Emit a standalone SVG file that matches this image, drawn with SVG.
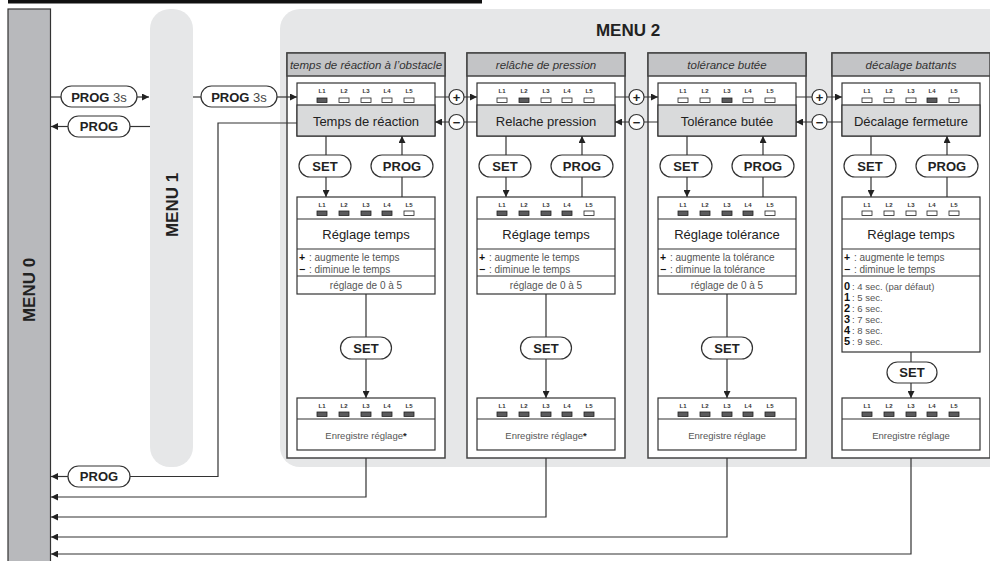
<svg xmlns="http://www.w3.org/2000/svg" width="990" height="561" viewBox="0 0 990 561">
<defs>
<style>
text{font-family:"Liberation Sans",Arial,sans-serif}
.ln{stroke:#333;stroke-width:1.2;fill:none}
.box{fill:#fff;stroke:#333;stroke-width:1.2}
.col{fill:#fff;stroke:#444;stroke-width:1.5}
.hdr{fill:#c3c4c6;stroke:#444;stroke-width:1.5}
.lbl{fill:#d9dadb;stroke:#333;stroke-width:1.2}
.pill{fill:#fff;stroke:#333;stroke-width:1.2}
.on{fill:#5a5a5c;stroke:#222;stroke-width:0.8}
.off{fill:#fff;stroke:#222;stroke-width:0.8}
.lt{font-size:6px;font-weight:bold;fill:#333;text-anchor:middle}
.big{font-size:13px;fill:#222;text-anchor:middle}
.pt{font-size:13px;font-weight:bold;fill:#222;text-anchor:middle}
.hd{font-size:11.5px;font-style:italic;fill:#333;text-anchor:middle}
.sm{font-size:10px;fill:#555}
.sl{font-size:9.5px;fill:#555}
.smc{font-size:10px;fill:#555;text-anchor:middle}
.en{font-size:9.5px;fill:#555;text-anchor:middle}
.sg{font-size:10.5px;font-weight:bold;fill:#111}
.dg{font-size:11px;font-weight:bold;fill:#111}
.menu{font-size:17px;font-weight:bold;fill:#222;text-anchor:middle}
.pm{font-size:13px;font-weight:bold;fill:#222;text-anchor:middle}
</style>
<marker id="ar" viewBox="0 0 10 10" refX="10" refY="5" markerWidth="7" markerHeight="7" markerUnits="userSpaceOnUse" orient="auto"><path d="M0,0 L10,5 L0,10 z" fill="#222"/></marker>
</defs>
<rect width="990" height="561" fill="#fff"/>
<rect x="8" y="0" width="474" height="3.5" fill="#111"/>

<g id="menu0">
<rect x="8" y="9" width="42.5" height="560" fill="#b8b9bc" stroke="#333" stroke-width="1.2"/>
<text class="menu" transform="translate(35,290) rotate(-90)">MENU 0</text>
</g>
<g id="menu1">
<rect x="150" y="9" width="43" height="458" rx="20" fill="#e6e7e8"/>
<text class="menu" transform="translate(178,205) rotate(-90)">MENU 1</text>
</g>
<g id="menu2">
<rect x="280" y="9" width="740" height="458" rx="20" fill="#e6e7e8"/>
<text class="menu" x="628" y="36">MENU 2</text>
</g>

<g id="col1" transform="translate(287,0)">
<rect class="col" x="0" y="53" width="158" height="405"/>
<rect class="hdr" x="0" y="53" width="158" height="23"/>
<text class="hd" x="79" y="68.5">temps de réaction à l’obstacle</text>
<rect class="box" x="10" y="83" width="138" height="53"/>
<rect class="lbl" x="10" y="105" width="138" height="31"/>
<text class="lt" x="35" y="93">L1</text><text class="lt" x="57" y="93">L2</text><text class="lt" x="79" y="93">L3</text><text class="lt" x="100" y="93">L4</text><text class="lt" x="122" y="93">L5</text>
<rect class="on" x="30" y="98" width="10" height="4.5"/><rect class="off" x="52" y="98" width="10" height="4.5"/><rect class="off" x="74" y="98" width="10" height="4.5"/><rect class="off" x="95" y="98" width="10" height="4.5"/><rect class="off" x="117" y="98" width="10" height="4.5"/>
<text class="big" x="79" y="125.5">Temps de réaction</text>
<path class="ln" d="M39,136 V197" marker-end="url(#ar)"/>
<path class="ln" d="M115,197 V136" marker-end="url(#ar)"/>
<rect class="pill" x="12" y="155" width="52" height="22" rx="11"/><text class="pt" x="38" y="170.5">SET</text>
<rect class="pill" x="84" y="155" width="62" height="22" rx="11"/><text class="pt" x="115" y="170.5">PROG</text>
<rect class="box" x="10" y="197" width="138" height="97"/>
<path class="ln" d="M10,219 H148 M10,249 H148 M10,276 H148"/>
<text class="lt" x="35" y="207">L1</text><text class="lt" x="57" y="207">L2</text><text class="lt" x="79" y="207">L3</text><text class="lt" x="100" y="207">L4</text><text class="lt" x="122" y="207">L5</text>
<rect class="on" x="30" y="211" width="10" height="4.5"/><rect class="on" x="52" y="211" width="10" height="4.5"/><rect class="on" x="74" y="211" width="10" height="4.5"/><rect class="on" x="95" y="211" width="10" height="4.5"/><rect class="off" x="117" y="211" width="10" height="4.5"/>
<text class="big" x="79" y="239">Réglage temps</text>
<text class="sg" x="12" y="261">+</text><text class="sm" x="22" y="261">: augmente le temps</text>
<text class="sg" x="12" y="273">−</text><text class="sm" x="22" y="273">: diminue le temps</text>
<text class="smc" x="79" y="289">réglage de 0 à 5</text>
<path class="ln" d="M79,294 V398" marker-end="url(#ar)"/>
<rect class="pill" x="53.5" y="337" width="51" height="22" rx="11"/><text class="pt" x="79" y="352.5">SET</text>
<rect class="box" x="10" y="398" width="138" height="52"/>
<path class="ln" d="M10,419 H148"/>
<text class="lt" x="35" y="408">L1</text><text class="lt" x="57" y="408">L2</text><text class="lt" x="79" y="408">L3</text><text class="lt" x="100" y="408">L4</text><text class="lt" x="122" y="408">L5</text>
<rect class="on" x="30" y="412" width="10" height="4.5"/><rect class="on" x="52" y="412" width="10" height="4.5"/><rect class="on" x="74" y="412" width="10" height="4.5"/><rect class="on" x="95" y="412" width="10" height="4.5"/><rect class="on" x="117" y="412" width="10" height="4.5"/>
<text class="en" x="79" y="439">Enregistre réglage<tspan font-weight="bold" fill="#222">*</tspan></text>
</g>

<g id="col2" transform="translate(467,0)">
<rect class="col" x="0" y="53" width="158" height="405"/>
<rect class="hdr" x="0" y="53" width="158" height="23"/>
<text class="hd" x="79" y="68.5">relâche de pression</text>
<rect class="box" x="10" y="83" width="138" height="53"/>
<rect class="lbl" x="10" y="105" width="138" height="31"/>
<text class="lt" x="35" y="93">L1</text><text class="lt" x="57" y="93">L2</text><text class="lt" x="79" y="93">L3</text><text class="lt" x="100" y="93">L4</text><text class="lt" x="122" y="93">L5</text>
<rect class="off" x="30" y="98" width="10" height="4.5"/><rect class="on" x="52" y="98" width="10" height="4.5"/><rect class="off" x="74" y="98" width="10" height="4.5"/><rect class="off" x="95" y="98" width="10" height="4.5"/><rect class="off" x="117" y="98" width="10" height="4.5"/>
<text class="big" x="79" y="125.5">Relache pression</text>
<path class="ln" d="M39,136 V197" marker-end="url(#ar)"/>
<path class="ln" d="M115,197 V136" marker-end="url(#ar)"/>
<rect class="pill" x="12" y="155" width="52" height="22" rx="11"/><text class="pt" x="38" y="170.5">SET</text>
<rect class="pill" x="84" y="155" width="62" height="22" rx="11"/><text class="pt" x="115" y="170.5">PROG</text>
<rect class="box" x="10" y="197" width="138" height="97"/>
<path class="ln" d="M10,219 H148 M10,249 H148 M10,276 H148"/>
<text class="lt" x="35" y="207">L1</text><text class="lt" x="57" y="207">L2</text><text class="lt" x="79" y="207">L3</text><text class="lt" x="100" y="207">L4</text><text class="lt" x="122" y="207">L5</text>
<rect class="on" x="30" y="211" width="10" height="4.5"/><rect class="on" x="52" y="211" width="10" height="4.5"/><rect class="on" x="74" y="211" width="10" height="4.5"/><rect class="on" x="95" y="211" width="10" height="4.5"/><rect class="off" x="117" y="211" width="10" height="4.5"/>
<text class="big" x="79" y="239">Réglage temps</text>
<text class="sg" x="12" y="261">+</text><text class="sm" x="22" y="261">: augmente le temps</text>
<text class="sg" x="12" y="273">−</text><text class="sm" x="22" y="273">: diminue le temps</text>
<text class="smc" x="79" y="289">réglage de 0 à 5</text>
<path class="ln" d="M79,294 V398" marker-end="url(#ar)"/>
<rect class="pill" x="53.5" y="337" width="51" height="22" rx="11"/><text class="pt" x="79" y="352.5">SET</text>
<rect class="box" x="10" y="398" width="138" height="52"/>
<path class="ln" d="M10,419 H148"/>
<text class="lt" x="35" y="408">L1</text><text class="lt" x="57" y="408">L2</text><text class="lt" x="79" y="408">L3</text><text class="lt" x="100" y="408">L4</text><text class="lt" x="122" y="408">L5</text>
<rect class="on" x="30" y="412" width="10" height="4.5"/><rect class="on" x="52" y="412" width="10" height="4.5"/><rect class="on" x="74" y="412" width="10" height="4.5"/><rect class="on" x="95" y="412" width="10" height="4.5"/><rect class="on" x="117" y="412" width="10" height="4.5"/>
<text class="en" x="79" y="439">Enregistre réglage<tspan font-weight="bold" fill="#222">*</tspan></text>
</g>

<g id="col3" transform="translate(648,0)">
<rect class="col" x="0" y="53" width="158" height="405"/>
<rect class="hdr" x="0" y="53" width="158" height="23"/>
<text class="hd" x="79" y="68.5">tolérance butée</text>
<rect class="box" x="10" y="83" width="138" height="53"/>
<rect class="lbl" x="10" y="105" width="138" height="31"/>
<text class="lt" x="35" y="93">L1</text><text class="lt" x="57" y="93">L2</text><text class="lt" x="79" y="93">L3</text><text class="lt" x="100" y="93">L4</text><text class="lt" x="122" y="93">L5</text>
<rect class="off" x="30" y="98" width="10" height="4.5"/><rect class="off" x="52" y="98" width="10" height="4.5"/><rect class="on" x="74" y="98" width="10" height="4.5"/><rect class="off" x="95" y="98" width="10" height="4.5"/><rect class="off" x="117" y="98" width="10" height="4.5"/>
<text class="big" x="79" y="125.5">Tolérance butée</text>
<path class="ln" d="M39,136 V197" marker-end="url(#ar)"/>
<path class="ln" d="M115,197 V136" marker-end="url(#ar)"/>
<rect class="pill" x="12" y="155" width="52" height="22" rx="11"/><text class="pt" x="38" y="170.5">SET</text>
<rect class="pill" x="84" y="155" width="62" height="22" rx="11"/><text class="pt" x="115" y="170.5">PROG</text>
<rect class="box" x="10" y="197" width="138" height="97"/>
<path class="ln" d="M10,219 H148 M10,249 H148 M10,276 H148"/>
<text class="lt" x="35" y="207">L1</text><text class="lt" x="57" y="207">L2</text><text class="lt" x="79" y="207">L3</text><text class="lt" x="100" y="207">L4</text><text class="lt" x="122" y="207">L5</text>
<rect class="on" x="30" y="211" width="10" height="4.5"/><rect class="on" x="52" y="211" width="10" height="4.5"/><rect class="on" x="74" y="211" width="10" height="4.5"/><rect class="on" x="95" y="211" width="10" height="4.5"/><rect class="off" x="117" y="211" width="10" height="4.5"/>
<text class="big" x="79" y="239">Réglage tolérance</text>
<text class="sg" x="12" y="261">+</text><text class="sm" x="22" y="261">: augmente la tolérance</text>
<text class="sg" x="12" y="273">−</text><text class="sm" x="22" y="273">: diminue la tolérance</text>
<text class="smc" x="79" y="289">réglage de 0 à 5</text>
<path class="ln" d="M79,294 V398" marker-end="url(#ar)"/>
<rect class="pill" x="53.5" y="337" width="51" height="22" rx="11"/><text class="pt" x="79" y="352.5">SET</text>
<rect class="box" x="10" y="398" width="138" height="52"/>
<path class="ln" d="M10,419 H148"/>
<text class="lt" x="35" y="408">L1</text><text class="lt" x="57" y="408">L2</text><text class="lt" x="79" y="408">L3</text><text class="lt" x="100" y="408">L4</text><text class="lt" x="122" y="408">L5</text>
<rect class="on" x="30" y="412" width="10" height="4.5"/><rect class="on" x="52" y="412" width="10" height="4.5"/><rect class="on" x="74" y="412" width="10" height="4.5"/><rect class="on" x="95" y="412" width="10" height="4.5"/><rect class="on" x="117" y="412" width="10" height="4.5"/>
<text class="en" x="79" y="439">Enregistre réglage</text>
</g>

<g id="col4" transform="translate(832,0)">
<rect class="col" x="0" y="53" width="158" height="405"/>
<rect class="hdr" x="0" y="53" width="158" height="23"/>
<text class="hd" x="79" y="68.5">décalage battants</text>
<rect class="box" x="10" y="83" width="138" height="53"/>
<rect class="lbl" x="10" y="105" width="138" height="31"/>
<text class="lt" x="35" y="93">L1</text><text class="lt" x="57" y="93">L2</text><text class="lt" x="79" y="93">L3</text><text class="lt" x="100" y="93">L4</text><text class="lt" x="122" y="93">L5</text>
<rect class="off" x="30" y="98" width="10" height="4.5"/><rect class="off" x="52" y="98" width="10" height="4.5"/><rect class="off" x="74" y="98" width="10" height="4.5"/><rect class="on" x="95" y="98" width="10" height="4.5"/><rect class="off" x="117" y="98" width="10" height="4.5"/>
<text class="big" x="79" y="125.5">Décalage fermeture</text>
<path class="ln" d="M39,136 V197" marker-end="url(#ar)"/>
<path class="ln" d="M115,197 V136" marker-end="url(#ar)"/>
<rect class="pill" x="12" y="155" width="52" height="22" rx="11"/><text class="pt" x="38" y="170.5">SET</text>
<rect class="pill" x="84" y="155" width="62" height="22" rx="11"/><text class="pt" x="115" y="170.5">PROG</text>
<rect class="box" x="10" y="197" width="138" height="155"/>
<path class="ln" d="M10,219 H148 M10,249 H148 M10,276 H148"/>
<text class="lt" x="35" y="207">L1</text><text class="lt" x="57" y="207">L2</text><text class="lt" x="79" y="207">L3</text><text class="lt" x="100" y="207">L4</text><text class="lt" x="122" y="207">L5</text>
<rect class="off" x="30" y="211" width="10" height="4.5"/><rect class="off" x="52" y="211" width="10" height="4.5"/><rect class="off" x="74" y="211" width="10" height="4.5"/><rect class="off" x="95" y="211" width="10" height="4.5"/><rect class="off" x="117" y="211" width="10" height="4.5"/>
<text class="big" x="79" y="239">Réglage temps</text>
<text class="sg" x="12" y="261">+</text><text class="sm" x="22" y="261">: augmente le temps</text>
<text class="sg" x="12" y="273">−</text><text class="sm" x="22" y="273">: diminue le temps</text>
<text class="dg" x="12" y="289.5">0</text><text class="sl" x="20" y="289.5">: 4 sec. (par défaut)</text>
<text class="dg" x="12" y="300.5">1</text><text class="sl" x="20" y="300.5">: 5 sec.</text>
<text class="dg" x="12" y="311.5">2</text><text class="sl" x="20" y="311.5">: 6 sec.</text>
<text class="dg" x="12" y="322.5">3</text><text class="sl" x="20" y="322.5">: 7 sec.</text>
<text class="dg" x="12" y="333.5">4</text><text class="sl" x="20" y="333.5">: 8 sec.</text>
<text class="dg" x="12" y="344.5">5</text><text class="sl" x="20" y="344.5">: 9 sec.</text>
<path class="ln" d="M79,352 V398" marker-end="url(#ar)"/>
<rect class="pill" x="55" y="362" width="50" height="21" rx="10.5"/><text class="pt" x="80" y="377">SET</text>
<rect class="box" x="10" y="398" width="138" height="52"/>
<path class="ln" d="M10,419 H148"/>
<text class="lt" x="35" y="408">L1</text><text class="lt" x="57" y="408">L2</text><text class="lt" x="79" y="408">L3</text><text class="lt" x="100" y="408">L4</text><text class="lt" x="122" y="408">L5</text>
<rect class="on" x="30" y="412" width="10" height="4.5"/><rect class="on" x="52" y="412" width="10" height="4.5"/><rect class="on" x="74" y="412" width="10" height="4.5"/><rect class="on" x="95" y="412" width="10" height="4.5"/><rect class="on" x="117" y="412" width="10" height="4.5"/>
<text class="en" x="79" y="439">Enregistre réglage</text>
</g>

<g id="connectors">
<path class="ln" d="M51,97 H61"/>
<path class="ln" d="M137,97 H149" marker-end="url(#ar)"/>
<rect class="pill" x="61" y="86" width="76" height="21" rx="10.5"/>
<text x="99" y="101.5" font-size="13" fill="#222" text-anchor="middle"><tspan font-weight="bold">PROG</tspan> <tspan fill="#444">3s</tspan></text>
<path class="ln" d="M150,126.5 H130"/>
<path class="ln" d="M68,126.5 H51" marker-end="url(#ar)"/>
<rect class="pill" x="68" y="116" width="62" height="21" rx="10.5"/>
<text class="pt" x="99" y="131">PROG</text>
<path class="ln" d="M193,97 H201"/>
<path class="ln" d="M277,97 H297" marker-end="url(#ar)"/>
<rect class="pill" x="201" y="86" width="76" height="21" rx="10.5"/>
<text x="239" y="101.5" font-size="13" fill="#222" text-anchor="middle"><tspan font-weight="bold">PROG</tspan> <tspan fill="#444">3s</tspan></text>
<path class="ln" d="M297,123 H218 V476.5 H130"/>
<path class="ln" d="M68,476.5 H51" marker-end="url(#ar)"/>
<rect class="pill" x="68" y="466" width="62" height="21" rx="10.5"/>
<text class="pt" x="99" y="481">PROG</text>
<path class="ln" d="M366,458 V497 H51" marker-end="url(#ar)"/>
<path class="ln" d="M546,458 V517 H51" marker-end="url(#ar)"/>
<path class="ln" d="M727,458 V537 H51" marker-end="url(#ar)"/>
<path class="ln" d="M911,458 V554 H51" marker-end="url(#ar)"/>
<path class="ln" d="M435,97 H449 M464,97 H477" marker-end="url(#ar)"/>
<path class="ln" d="M477,122 H464 M449,122 H435" marker-end="url(#ar)"/>
<circle class="pill" cx="456.5" cy="97" r="7.5"/><text class="pm" x="456.5" y="101.5">+</text>
<circle class="pill" cx="456.5" cy="122" r="7.5"/><text class="pm" x="456.5" y="126.5">−</text>
<path class="ln" d="M615,97 H629 M644,97 H658" marker-end="url(#ar)"/>
<path class="ln" d="M658,122 H644 M629,122 H615" marker-end="url(#ar)"/>
<circle class="pill" cx="636.5" cy="97" r="7.5"/><text class="pm" x="636.5" y="101.5">+</text>
<circle class="pill" cx="636.5" cy="122" r="7.5"/><text class="pm" x="636.5" y="126.5">−</text>
<path class="ln" d="M796,97 H812 M827,97 H842" marker-end="url(#ar)"/>
<path class="ln" d="M842,122 H827 M812,122 H796" marker-end="url(#ar)"/>
<circle class="pill" cx="819.5" cy="97" r="7.5"/><text class="pm" x="819.5" y="101.5">+</text>
<circle class="pill" cx="819.5" cy="122" r="7.5"/><text class="pm" x="819.5" y="126.5">−</text>
</g>
</svg>
